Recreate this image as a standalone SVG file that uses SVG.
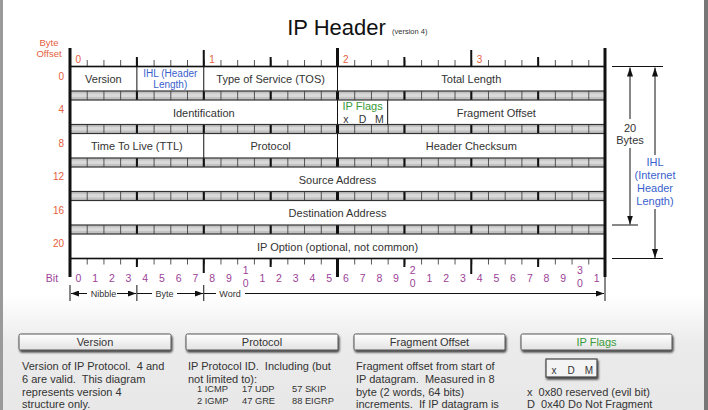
<svg xmlns="http://www.w3.org/2000/svg" width="708" height="410" viewBox="0 0 708 410">
<style>
text{font-family:"Liberation Sans",Arial,Helvetica,sans-serif;white-space:pre}
.t{font-size:11px;fill:#333;text-anchor:middle}
.o{font-size:10px;fill:#e5603e;text-anchor:end}
.bt{font-size:10.5px;fill:#9c3f98;text-anchor:middle}
.nb{font-size:9px;fill:#333;text-anchor:middle}
.lg{font-size:11px;fill:#333}
.sm{font-size:9.3px;fill:#333}
.bl{fill:#3a5fcd}
.gr{fill:#3a9a3a}
.blk{stroke:#111;fill:none}
.d{font-size:11px;text-anchor:middle}
</style>
<defs>
<linearGradient id="bg" x1="0" y1="0" x2="0" y2="1" gradientUnits="objectBoundingBox">
<stop offset="0" stop-color="#ffffff"/><stop offset="0.72" stop-color="#ffffff"/><stop offset="0.84" stop-color="#ebebeb"/><stop offset="1" stop-color="#e8e8e8"/>
</linearGradient>
<linearGradient id="btn" x1="0" y1="0" x2="0" y2="1">
<stop offset="0" stop-color="#ffffff"/><stop offset="1" stop-color="#e2e2e2"/>
</linearGradient>
<pattern id="tk" x="70" y="0" width="16.71875" height="10" patternUnits="userSpaceOnUse"><rect x="0" y="0" width="0.9" height="10" fill="#444"/></pattern>
<filter id="sh" x="-10%" y="-30%" width="120%" height="180%"><feGaussianBlur in="SourceAlpha" stdDeviation="1.2"/><feOffset dx="0.5" dy="1.5" result="b"/><feComponentTransfer><feFuncA type="linear" slope="0.75"/></feComponentTransfer><feMerge><feMergeNode/><feMergeNode in="SourceGraphic"/></feMerge></filter>
<marker id="ah" viewBox="0 0 8 6" refX="8" refY="3" markerWidth="8" markerHeight="6" markerUnits="userSpaceOnUse" orient="auto"><path d="M0,0L8,3L0,6z" fill="#111"/></marker>
<marker id="av" viewBox="0 0 9 6" refX="9" refY="3" markerWidth="9" markerHeight="6" markerUnits="userSpaceOnUse" orient="auto"><path d="M0,0L9,3L0,6z" fill="#111"/></marker>
</defs>

<rect x="0" y="0" width="708" height="410" fill="url(#bg)"/>
<rect x="0" y="0" width="3" height="410" fill="#9a9a9a"/>
<rect x="704" y="0" width="4" height="410" fill="#777"/>

<g id="title">
<text x="336.5" y="35" style="font-size:22px;fill:#111;text-anchor:middle">IP Header</text>
<text x="392" y="34" style="font-size:7.5px;fill:#333">(version 4)</text>
</g>

<g id="byte-offsets">
<text x="49" y="46" style="font-size:9.5px;fill:#e5603e;text-anchor:middle">Byte</text>
<text x="49" y="57" style="font-size:9.5px;fill:#e5603e;text-anchor:middle">Offset</text>
<text class="o" x="64" y="79.5">0</text>
<text class="o" x="64" y="113">4</text>
<text class="o" x="64" y="146.5">8</text>
<text class="o" x="64" y="180">12</text>
<text class="o" x="64" y="213.5">16</text>
<text class="o" x="64" y="247">20</text>
<text x="78.4" y="63" style="font-size:10px;fill:#e5603e;text-anchor:middle">0</text>
<text x="212.1" y="63" style="font-size:10px;fill:#e5603e;text-anchor:middle">1</text>
<text x="345.9" y="63" style="font-size:10px;fill:#e5603e;text-anchor:middle">2</text>
<text x="479.6" y="63" style="font-size:10px;fill:#e5603e;text-anchor:middle">3</text>
</g>

<g id="grid">
<rect x="70" y="66.5" width="535" height="192" fill="#c2c2c2"/>
<g fill="#d9d9d9">
<rect x="70" y="93.5" width="535" height="3.5"/>
<rect x="70" y="127" width="535" height="3.5"/>
<rect x="70" y="160.5" width="535" height="3.5"/>
<rect x="70" y="194" width="535" height="3.5"/>
<rect x="70" y="227.5" width="535" height="3.5"/>
</g>
<rect x="70" y="66.5" width="535" height="192" fill="url(#tk)"/>
<rect x="70" y="60" width="535" height="6.5" fill="url(#tk)"/>
<rect x="70" y="258.5" width="535" height="6" fill="url(#tk)"/>
<path class="blk" stroke-width="2" d="M136.88,57V267M203.75,50V273M270.63,57V267M404.38,57V267M471.25,50V274M538.13,57V267"/>
<path class="blk" stroke-width="3" d="M337.5,48V277"/>
<g fill="#fff" stroke="#333" stroke-width="1.2">
<rect x="70" y="66.5" width="535" height="24.5"/>
<rect x="70" y="100" width="535" height="24.5"/>
<rect x="70" y="133.5" width="535" height="24.5"/>
<rect x="70" y="167" width="535" height="24.5"/>
<rect x="70" y="200.5" width="535" height="24.5"/>
<rect x="70" y="234" width="535" height="24.5"/>
</g>
<path class="blk" stroke-width="1.5" d="M70,66.5H605M70,258.5H605"/>
<path class="blk" stroke-width="3" d="M70,48V277M605,48V277"/>
<path class="blk" stroke-width="1" d="M136.88,66.5V91M203.75,66.5V91M337.5,66.5V91M337.5,100V124.5M387.66,100V124.5M203.75,133.5V158M337.5,133.5V158"/>
</g>

<g id="row0">
<text class="t" x="103.4" y="82.5">Version</text>
<text class="bl" x="170.3" y="77" style="font-size:10px;text-anchor:middle">IHL (Header</text>
<text class="bl" x="170.3" y="88" style="font-size:10px;text-anchor:middle">Length)</text>
<text class="t" x="270.6" y="82.5">Type of Service (TOS)</text>
<text class="t" x="471.3" y="82.5">Total Length</text>
</g>
<g id="row4">
<text class="t" x="203.8" y="116.5">Identification</text>
<text class="t gr" x="362.6" y="110">IP Flags</text>
<text class="t" x="345.9" y="122.5" style="font-size:10.5px">x</text>
<text class="t" x="362.6" y="122.5" style="font-size:10.5px">D</text>
<text class="t" x="379.3" y="122.5" style="font-size:10.5px">M</text>
<text class="t" x="496.3" y="116.5">Fragment Offset</text>
</g>
<g id="row8">
<text class="t" x="136.9" y="150">Time To Live (TTL)</text>
<text class="t" x="270.6" y="150">Protocol</text>
<text class="t" x="471.3" y="150">Header Checksum</text>
</g>
<g id="row12"><text class="t" x="337.5" y="183.5">Source Address</text></g>
<g id="row16"><text class="t" x="337.5" y="217">Destination Address</text></g>
<g id="row20"><text class="t" x="337.5" y="250.5">IP Option (optional, not common)</text></g>

<g id="bits">
<text class="bt" x="52" y="282">Bit</text>
<text class="bt" x="78.4" y="282">0</text>
<text class="bt" x="95.1" y="282">1</text>
<text class="bt" x="111.8" y="282">2</text>
<text class="bt" x="128.5" y="282">3</text>
<text class="bt" x="145.2" y="282">4</text>
<text class="bt" x="162" y="282">5</text>
<text class="bt" x="178.7" y="282">6</text>
<text class="bt" x="195.4" y="282">7</text>
<text class="bt" x="212.1" y="282">8</text>
<text class="bt" x="228.8" y="282">9</text>
<text class="bt" x="245.6" y="274">1</text>
<text class="bt" x="245.6" y="287">0</text>
<text class="bt" x="262.3" y="282">1</text>
<text class="bt" x="279" y="282">2</text>
<text class="bt" x="295.7" y="282">3</text>
<text class="bt" x="312.4" y="282">4</text>
<text class="bt" x="329.1" y="282">5</text>
<text class="bt" x="345.9" y="282">6</text>
<text class="bt" x="362.6" y="282">7</text>
<text class="bt" x="379.3" y="282">8</text>
<text class="bt" x="396" y="282">9</text>
<text class="bt" x="412.7" y="274">2</text>
<text class="bt" x="412.7" y="287">0</text>
<text class="bt" x="429.5" y="282">1</text>
<text class="bt" x="446.2" y="282">2</text>
<text class="bt" x="462.9" y="282">3</text>
<text class="bt" x="479.6" y="282">4</text>
<text class="bt" x="496.3" y="282">5</text>
<text class="bt" x="513" y="282">6</text>
<text class="bt" x="529.8" y="282">7</text>
<text class="bt" x="546.5" y="282">8</text>
<text class="bt" x="563.2" y="282">9</text>
<text class="bt" x="579.9" y="274">3</text>
<text class="bt" x="579.9" y="287">0</text>
<text class="bt" x="596.6" y="282">1</text>
</g>

<g id="connectors">
<path class="blk" stroke-width="1" d="M70,285V301M136.88,285V301M203.75,285V301M605,277V301"/>
<line class="blk" stroke-width="1" x1="87" y1="293.5" x2="71" y2="293.5" marker-end="url(#ah)"/>
<line class="blk" stroke-width="1" x1="117" y1="293.5" x2="136" y2="293.5" marker-end="url(#ah)"/>
<line class="blk" stroke-width="1" x1="137" y1="293.5" x2="152" y2="293.5"/>
<line class="blk" stroke-width="1" x1="177" y1="293.5" x2="203" y2="293.5" marker-end="url(#ah)"/>
<line class="blk" stroke-width="1" x1="204" y1="293.5" x2="216" y2="293.5"/>
<line class="blk" stroke-width="1" x1="245" y1="293.5" x2="604" y2="293.5" marker-end="url(#ah)"/>
<path class="blk" stroke-width="1" d="M612,66.5H663M612,225H638M612,258.5H663"/>
<line class="blk" stroke-width="1" x1="630" y1="119" x2="630" y2="67.5" marker-end="url(#av)"/>
<line class="blk" stroke-width="1" x1="630" y1="148" x2="630" y2="224.5" marker-end="url(#av)"/>
<line class="blk" stroke-width="1" x1="655" y1="155" x2="655" y2="67.5" marker-end="url(#av)"/>
<line class="blk" stroke-width="1" x1="655" y1="209" x2="655" y2="258" marker-end="url(#av)"/>
</g>

<g id="units">
<text class="nb" x="103.4" y="296.5">Nibble</text>
<text class="nb" x="164.5" y="296.5">Byte</text>
<text class="nb" x="230" y="296.5">Word</text>
</g>

<g id="dimensions">
<text x="630" y="132" style="font-size:11px;fill:#333;text-anchor:middle">20</text>
<text x="630" y="144" style="font-size:11px;fill:#333;text-anchor:middle">Bytes</text>
<text class="bl d" x="655" y="166">IHL</text>
<text class="bl d" x="655" y="179">(Internet</text>
<text class="bl d" x="655" y="192">Header</text>
<text class="bl d" x="655" y="205">Length)</text>
</g>

<g id="legend-version">
<rect x="19" y="334" width="152" height="16" rx="1.5" fill="url(#btn)" stroke="#555" stroke-width="1" filter="url(#sh)"/>
<text x="95" y="346" style="font-size:11px;fill:#333;text-anchor:middle">Version</text>
<text class="lg" x="22" y="370">Version of IP Protocol.  4 and</text>
<text class="lg" x="22" y="383">6 are valid.  This diagram</text>
<text class="lg" x="22" y="395.5">represents version 4</text>
<text class="lg" x="22" y="408">structure only.</text>
</g>

<g id="legend-protocol">
<rect x="186" y="334" width="152" height="16" rx="1.5" fill="url(#btn)" stroke="#555" stroke-width="1" filter="url(#sh)"/>
<text x="262" y="346" style="font-size:11px;fill:#333;text-anchor:middle">Protocol</text>
<text class="lg" x="188" y="370">IP Protocol ID.  Including (but</text>
<text class="lg" x="188" y="383">not limited to):</text>
<text class="sm" x="197" y="392">1 ICMP</text>
<text class="sm" x="242" y="392">17 UDP</text>
<text class="sm" x="292" y="392">57 SKIP</text>
<text class="sm" x="197" y="404">2 IGMP</text>
<text class="sm" x="242" y="404">47 GRE</text>
<text class="sm" x="292" y="404">88 EIGRP</text>
</g>

<g id="legend-fragment">
<rect x="354" y="334" width="151" height="16" rx="1.5" fill="url(#btn)" stroke="#555" stroke-width="1" filter="url(#sh)"/>
<text x="429.5" y="346" style="font-size:11px;fill:#333;text-anchor:middle">Fragment Offset</text>
<text class="lg" x="356" y="370">Fragment offset from start of</text>
<text class="lg" x="356" y="383">IP datagram.  Measured in 8</text>
<text class="lg" x="356" y="395.5">byte (2 words, 64 bits)</text>
<text class="lg" x="356" y="408">increments.  If IP datagram is</text>
</g>

<g id="legend-flags">
<rect x="521" y="334" width="151" height="16" rx="1.5" fill="url(#btn)" stroke="#555" stroke-width="1" filter="url(#sh)"/>
<text class="gr" x="596.5" y="346" style="font-size:11px;text-anchor:middle">IP Flags</text>
<rect x="546" y="359" width="51" height="18" fill="#f4f4f4" stroke="#444" stroke-width="1.2" filter="url(#sh)"/>
<text x="554" y="374" style="font-size:10px;fill:#333;text-anchor:middle">x</text>
<text x="571" y="374" style="font-size:10px;fill:#333;text-anchor:middle">D</text>
<text x="589" y="374" style="font-size:10px;fill:#333;text-anchor:middle">M</text>
<text class="lg" x="527" y="395.5">x  0x80 reserved (evil bit)</text>
<text class="lg" x="527" y="408">D  0x40 Do Not Fragment</text>
</g>
</svg>
